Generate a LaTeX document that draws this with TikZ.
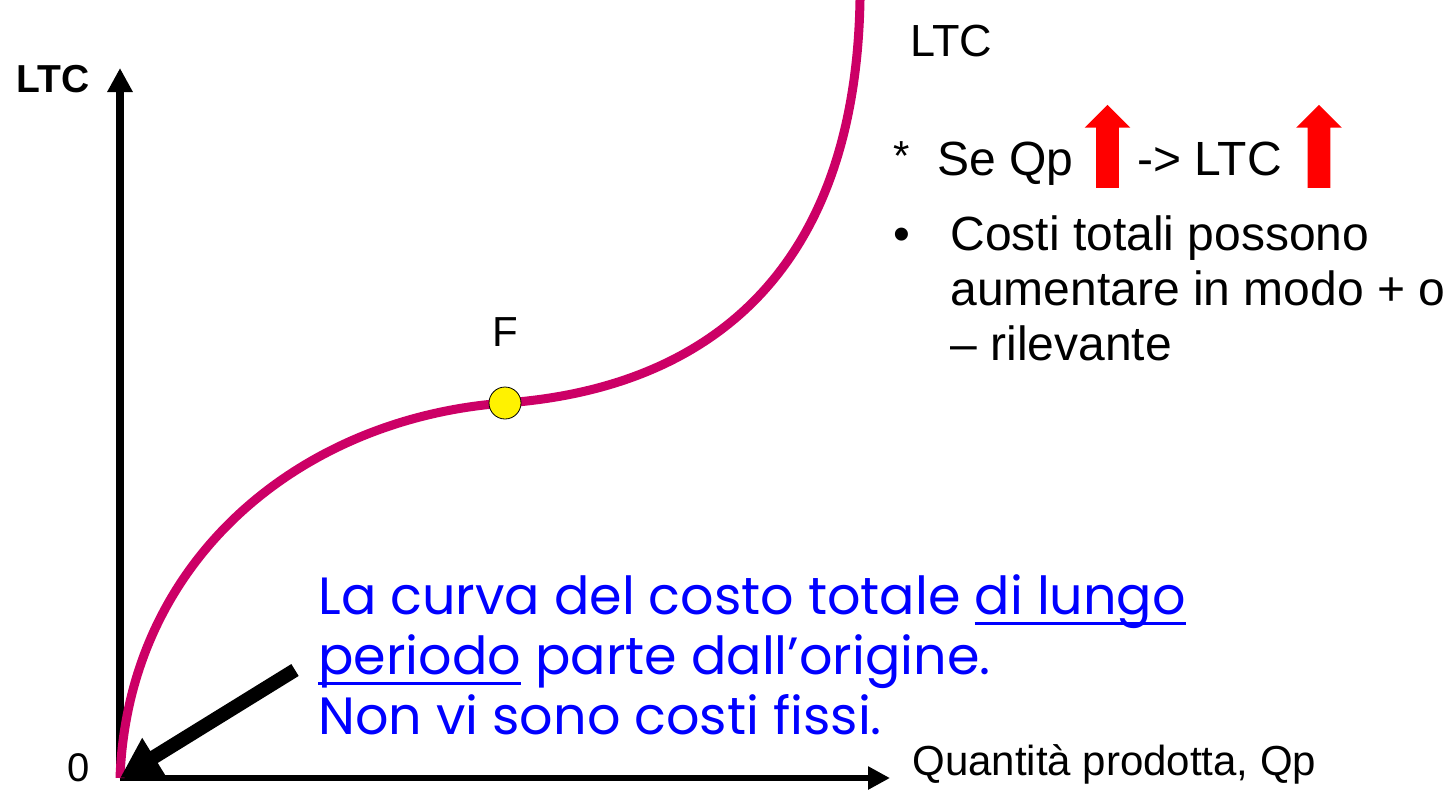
\documentclass[tikz,border=0pt]{standalone}
\usepackage{fontspec}
\setmainfont{Liberation Sans}
\newfontfamily\gothic{Poppins}
\usetikzlibrary{positioning,arrows.meta,shapes.arrows}
\definecolor{curva}{HTML}{CC0066}
\definecolor{blu}{HTML}{0000FF}
\newcommand\sott[1]{\setbox0\hbox{#1}\rlap{\rule[-5.5pt]{\wd0}{1.5pt}}\box0\relax}
\tikzset{etichetta/.style={anchor=base west,inner sep=0pt,font=\fontsize{24}{29}\selectfont},
  freccia/.style={single arrow,shape border rotate=90,fill=red,draw=none,inner sep=5.5pt,
    minimum height=41.5pt,minimum width=22.5pt,single arrow head extend=5.75pt},
  nota/.style={anchor=base west,inner sep=0pt,text=blu,font=\gothic\fontsize{26.2}{31}\selectfont}}

\begin{document}
\begin{tikzpicture}[x=0.5pt,y=-0.5pt]
\useasboundingbox (0,0) rectangle (1454,789);

% Assi
\coordinate (O) at (120,778);
\coordinate (ytop) at (120,68);
\coordinate (xend) at (890,778);
\draw[line width=4pt,-{Triangle[width=12pt,length=12pt]}] (O) -- (ytop);
\draw[line width=3pt,-{Triangle[width=11pt,length=11pt]}] (O) -- (xend);
\node[anchor=base east,inner sep=0pt,font=\bfseries\fontsize{19.5}{23}\selectfont] (ylab) at (90,92) {LTC};
\node[anchor=base east,inner sep=0pt,font=\fontsize{20}{24}\selectfont] (zero) at (90,781) {0};
\node[anchor=base west,inner sep=0pt,font=\fontsize{21}{24}\selectfont] (xlab) at (912,775) {Quantità prodotta, Qp};

% Curva
\draw[curva,line width=4.5pt] (O) .. controls (128,560) and (300,418) .. (505,403)
  .. controls (700,389) and (855,280) .. (860,0);
\node[draw,fill=yellow,circle,inner sep=0pt,minimum size=16pt,thin] (F) at (505,403) {};
\node[above=20pt of F,font=\fontsize{21}{25}\selectfont,inner sep=0pt] (Flab) {F};
\node[anchor=base west,inner sep=0pt,font=\fontsize{22.5}{27}\selectfont] (curvlab) at (910,56) {LTC};

% Testo a destra
\node[etichetta,font=\fontsize{21}{25}\selectfont] (star) at (893,170) {*};
\node[etichetta] (se) at (937,175) {Se Qp};
\node[freccia] (up1) at (1107.5,152) {};
\node[etichetta] (ltc) at (1137,175) {-> LTC};
\node[freccia] (up2) at (1319,152) {};
\node[etichetta] (bul) at (893,250) {•};
\node[etichetta] (r1) at (950,250) {Costi totali possono};
\node[etichetta] (r2) at (950,305) {aumentare in modo + o};
\node[etichetta] (r3) at (950,360) {– rilevante};

% Nota blu
\node[nota] (n1) at (318,614) {La curva del costo totale \sott{di lungo}};
\node[nota] (n2) at (318,674) {\sott{periodo} parte dall’origine.};
\node[nota] (n3) at (318,734) {Non vi sono costi fissi.};
\coordinate (nstart) at (295,670);
\draw[line width=7pt,-{Triangle[width=21pt,length=20pt]}] (nstart) -- (O);

\end{tikzpicture}
\end{document}
